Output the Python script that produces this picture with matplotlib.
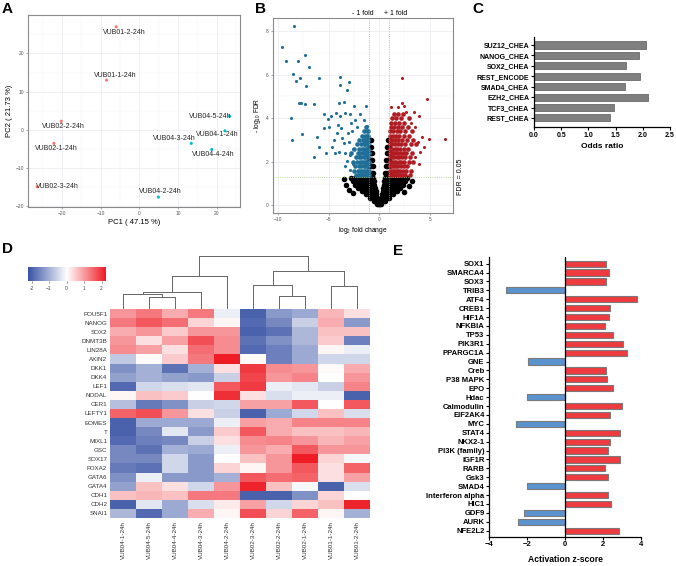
import numpy as np
import matplotlib
matplotlib.use('Agg')
import matplotlib.pyplot as plt
from matplotlib.colors import LinearSegmentedColormap

plt.rcParams['font.family'] = ['Liberation Sans', 'DejaVu Sans']
plt.rcParams['mathtext.fontset'] = 'custom'
plt.rcParams['mathtext.rm'] = 'Liberation Sans'
plt.rcParams['mathtext.it'] = 'Liberation Sans'

# ---------------- data ----------------
# A: PCA
pca_names = ['VUB01-2-24h', 'VUB01-1-24h', 'VUB02-2-24h', 'VUB02-1-24h', 'VUB02-3-24h',
             'VUB04-2-24h', 'VUB04-3-24h', 'VUB04-4-24h', 'VUB04-1-24h', 'VUB04-5-24h']
pc1 = [-6.0, -8.5, -20.2, -22.1, -26.4, 4.9, 13.4, 18.7, 22.1, 23.3]
pc2 = [27.0, 13.0, 2.2, -3.6, -15.0, -17.7, -3.6, -5.2, -0.3, 3.5]
pca_group = ['r', 'r', 'r', 'r', 'r', 'c', 'c', 'c', 'c', 'c']
label_xy = [(-3.8, 25.6), (-6.2, 14.1), (-19.7, 0.9), (-21.5, -5.0), (-21.3, -15.0),
            (5.4, -16.2), (9.0, -2.3), (19.2, -6.5), (20.1, -1.3), (18.2, 3.5)]

# B: volcano (log2 FC, -log10 FDR)
blue_out = [(-8.45, 8.25), (-9.6, 7.27), (-9.18, 6.64), (-8.03, 6.64), (-7.34, 6.9), (-6.97, 6.37),
            (-8.52, 6.02), (-7.83, 5.85), (-8.26, 5.73), (-7.24, 5.47), (-5.99, 5.85), (-7.9, 4.69),
            (-7.73, 4.7), (-7.3, 4.63), (-6.48, 4.63), (-8.68, 4.0), (-7.6, 3.28), (-8.62, 3.0),
            (-6.15, 3.12), (-5.99, 2.67), (-6.45, 2.24), (-5.3, 2.4), (-3.91, 5.9), (-3.85, 5.53),
            (-3.03, 5.68), (-3.19, 5.31), (-3.52, 4.76), (-4.01, 4.69), (-2.47, 4.58), (-1.35, 4.54),
            (-5.49, 4.2), (-5.1, 3.96), (-4.8, 4.1), (-4.28, 4.23), (-3.85, 4.12), (-3.36, 4.23),
            (-2.86, 4.2), (-1.88, 4.2), (-4.97, 3.59), (-5.49, 3.54), (-4.11, 3.7), (-3.75, 3.57),
            (-1.55, 3.92), (-1.22, 3.65), (-4.18, 3.31), (-4.44, 3.0), (-3.68, 3.08), (-4.67, 2.7),
            (-4.01, 2.47), (-4.34, 2.4), (-3.36, 2.4), (-3.52, 2.86), (-3.19, 2.02), (-2.93, 1.63),
            (-2.7, 3.4), (-3.0, 2.9), (-2.6, 2.6), (-2.9, 2.3), (-3.4, 1.8), (-2.6, 1.9),
            (-2.8, 3.8), (-2.2, 3.6), (-2.4, 3.9), (-3.1, 3.3)]
blue_rows = [(1.4, [-2.3, -2.0, -1.8, -1.6, -1.45, -1.3, -1.15, -1.03]),
             (1.6, [-2.5, -2.1, -1.85, -1.65, -1.5, -1.35, -1.2, -1.05]),
             (1.8, [-2.4, -2.0, -1.75, -1.55, -1.4, -1.25, -1.1]),
             (2.0, [-2.6, -2.2, -1.9, -1.7, -1.5, -1.35, -1.2, -1.05]),
             (2.2, [-2.3, -2.0, -1.75, -1.55, -1.4, -1.25, -1.1]),
             (2.4, [-2.8, -2.1, -1.85, -1.6, -1.45, -1.3, -1.15, -1.03]),
             (2.6, [-2.5, -2.0, -1.7, -1.5, -1.35, -1.2, -1.08]),
             (2.8, [-2.2, -1.8, -1.55, -1.4, -1.25, -1.1]),
             (3.0, [-2.0, -1.6, -1.4, -1.25, -1.12]),
             (3.2, [-1.7, -1.4, -1.2, -1.08]),
             (3.4, [-1.5, -1.25, -1.1]),
             (3.6, [-1.3])]
red_out = [(2.24, 5.85), (4.7, 4.9), (2.3, 4.69), (2.47, 4.55), (3.98, 4.1), (6.51, 3.04),
           (4.93, 3.04), (4.28, 3.16), (4.05, 2.47), (3.55, 3.62), (3.4, 4.3), (1.9, 4.5),
           (1.2, 4.5), (4.4, 2.7), (3.8, 2.9), (3.5, 2.2), (3.9, 1.9), (3.1, 3.8), (2.7, 4.3)]
red_rows = [(1.4, [1.05, 1.25, 1.45, 1.65, 1.85, 2.05, 2.3, 2.6, 3.0]),
            (1.6, [1.05, 1.25, 1.45, 1.65, 1.85, 2.1, 2.35, 2.7, 3.1]),
            (1.8, [1.05, 1.25, 1.45, 1.65, 1.9, 2.15, 2.45, 2.8]),
            (2.0, [1.05, 1.25, 1.45, 1.7, 1.95, 2.2, 2.5, 2.9, 3.3]),
            (2.2, [1.05, 1.25, 1.5, 1.75, 2.0, 2.3, 2.6, 3.0]),
            (2.4, [1.05, 1.25, 1.5, 1.75, 2.05, 2.35, 2.7, 3.2]),
            (2.6, [1.05, 1.3, 1.55, 1.8, 2.1, 2.45, 2.85]),
            (2.8, [1.05, 1.3, 1.55, 1.85, 2.2, 2.6, 3.1, 3.6]),
            (3.0, [1.05, 1.3, 1.6, 1.9, 2.3, 2.75, 3.3]),
            (3.2, [1.1, 1.35, 1.65, 2.0, 2.45, 2.9]),
            (3.4, [1.1, 1.4, 1.75, 2.1, 2.6, 3.2]),
            (3.6, [1.15, 1.5, 1.9, 2.3, 2.85]),
            (3.8, [1.2, 1.6, 2.0, 2.5]),
            (4.0, [1.3, 1.7, 2.2, 2.9]),
            (4.2, [1.5, 1.9, 2.4])]
black_rows = [(0.05, [-0.2, -0.1, 0.0, 0.1, 0.2]),
              (0.2, [-0.55, -0.4, -0.28, -0.18, 0.18, 0.28, 0.4, 0.55]),
              (0.35, [-0.9, -0.7, -0.5, -0.3, -0.2, 0.2, 0.3, 0.5, 0.7, 0.95]),
              (0.5, [-1.3, -1.05, -0.8, -0.6, -0.4, -0.27, 0.27, 0.4, 0.6, 0.8, 1.05, 1.35]),
              (0.65, [-1.7, -1.4, -1.1, -0.85, -0.6, -0.35, 0.35, 0.6, 0.85, 1.1, 1.4, 1.75]),
              (0.8, [-2.1, -1.8, -1.5, -1.2, -0.9, -0.65, -0.42, 0.42, 0.65, 0.9, 1.2, 1.5, 1.8, 2.1]),
              (0.95, [-2.4, -2.1, -1.8, -1.5, -1.2, -0.9, -0.65, -0.47, 0.47, 0.65, 0.9, 1.2, 1.5, 1.8, 2.1, 2.4]),
              (1.1, [-2.6, -2.3, -2.0, -1.7, -1.4, -1.1, -0.8, -0.52, 0.52, 0.8, 1.1, 1.4, 1.7, 2.0, 2.3, 2.6]),
              (1.25, [-2.8, -2.4, -2.1, -1.8, -1.5, -1.2, -0.9, -0.58, 0.58, 0.9, 1.2, 1.5, 1.8, 2.1, 2.4, 2.8]),
              (1.5, [-0.95, -0.75, -0.6, 0.62, 0.8, 0.97]),
              (1.8, [-0.97, -0.8, -0.65, 0.67, 0.82, 0.98]),
              (2.1, [-0.97, -0.82, -0.68, 0.7, 0.85, 0.98]),
              (2.4, [-0.97, -0.85, -0.72, 0.74, 0.88, 0.98]),
              (2.7, [-0.95, -0.8, 0.8, 0.95]),
              (3.0, [-0.95, -0.85, 0.88, 0.97])]
black_out = [(-3.3, 0.95), (-3.0, 0.7), (2.9, 0.9), (-2.6, 0.55), (2.5, 0.6), (3.2, 1.1), (-3.5, 1.2)]

# C: enrichment
tf_names = ['SUZ12_CHEA', 'NANOG_CHEA', 'SOX2_CHEA', 'REST_ENCODE', 'SMAD4_CHEA',
            'EZH2_CHEA', 'TCF3_CHEA', 'REST_CHEA']
odds = [2.06, 1.93, 1.70, 1.95, 1.67, 2.09, 1.47, 1.40]

# D: heatmap
hm_cols = ['VUB04-1-24h', 'VUB04-5-24h', 'VUB04-4-24h', 'VUB04-3-24h', 'VUB04-2-24h',
           'VUB02-3-24h', 'VUB02-2-24h', 'VUB02-1-24h', 'VUB01-1-24h', 'VUB01-2-24h']
hm_rows = ['POU5F1', 'NANOG', 'SOX2', 'DNMT3B', 'LIN28A', 'AXIN2', 'DKK1', 'DKK4', 'LEF1',
           'NODAL', 'CER1', 'LEFTY1', 'EOMES', 'T', 'MIXL1', 'GSC', 'SOX17', 'FOXA2',
           'GATA6', 'GATA4', 'CDH1', 'CDH2', 'SNAI1']
hm_vals = [
    [1.0, 1.3, 0.8, 1.3, -0.2, -2.0, -1.3, -1.1, 0.7, 0.3],
    [1.3, 1.6, 1.4, 0.4, 0.1, -1.9, -1.5, -0.6, 0.8, -1.3],
    [0.8, 1.0, 0.5, 1.0, 1.0, -2.0, -1.8, -0.9, 0.6, 0.6],
    [1.0, 0.3, 0.9, 1.7, 1.1, -1.8, -1.4, -0.9, 0.5, -1.6],
    [1.1, 0.9, 0.3, 1.4, 1.1, -1.9, -1.6, -1.1, 0.1, -0.2],
    [-0.7, 0.05, 0.5, 1.3, 2.3, 0.05, -1.6, -1.1, -0.5, -0.5],
    [-1.4, -1.0, -1.8, -1.0, 0.3, 1.9, 1.1, 1.0, 0.05, 0.8],
    [-1.2, -1.0, -1.2, -1.3, -0.6, 1.8, 1.0, 1.2, 0.0, 1.0],
    [-1.9, -0.5, -0.4, -0.3, 1.6, 1.9, -0.2, -0.3, -0.6, 1.2],
    [0.1, 0.6, 0.5, 0.0, 2.0, 0.3, -0.4, -0.2, -0.2, -2.0],
    [-0.8, -1.7, -1.4, -0.6, -0.5, 0.9, 0.9, 1.6, 0.0, 1.6],
    [1.5, 1.7, 1.0, 0.3, -0.6, -2.0, -1.1, -0.5, 0.6, -0.4],
    [-2.0, -1.1, -1.1, -1.1, -0.2, 0.9, 0.8, 1.2, 1.2, 1.2],
    [-2.0, -1.5, -0.3, -1.3, 0.5, 1.6, 0.8, 0.6, 0.6, 0.7],
    [-1.9, -1.6, -1.5, -0.6, 0.3, 1.1, 1.2, 1.0, 0.7, 0.9],
    [-1.5, -1.8, -1.0, -1.1, -0.2, 1.0, 0.8, 1.6, 1.0, 1.0],
    [-1.5, -1.5, -0.5, -1.3, 0.0, 0.6, 1.0, 2.3, 0.4, -0.1],
    [-1.7, -1.8, -0.5, -1.3, 0.4, 0.1, 1.0, 1.6, 0.3, 1.5],
    [-1.4, -0.2, -1.3, -1.3, -1.0, 1.6, 1.4, 1.5, 0.3, 0.9],
    [-1.2, 0.6, 0.3, -0.5, 1.0, 2.1, 0.6, -0.1, -2.0, -0.4],
    [0.6, 0.7, 0.6, 1.3, 1.3, -2.0, -2.0, -1.4, 0.4, 0.0],
    [-2.0, -0.3, -1.1, -0.4, 0.2, 0.9, -0.5, 0.4, 0.6, 2.1],
    [-0.9, -1.9, -1.1, 0.8, 0.1, 1.7, 0.4, 1.5, 0.1, -1.0],
]
# dendrogram merges: (left node, right node, height); new nodes numbered from 10
merges = [(1, 2, 35), (0, 10, 45), (11, 3, 52), (12, 4, 99),
          (6, 7, 39), (5, 14, 72), (8, 9, 69), (15, 16, 112), (13, 17, 157)]

# E: upstream regulators
reg_names = ['SOX1', 'SMARCA4', 'SOX3', 'TRIB3', 'ATF4', 'CREB1', 'HIF1A', 'NFKBIA', 'TP53',
             'PIK3R1', 'PPARGC1A', 'GNE', 'Creb', 'P38 MAPK', 'EPO', 'Hdac', 'Calmodulin',
             'EIF2AK4', 'MYC', 'STAT4', 'NKX2-1', 'PI3K (family)', 'IGF1R', 'RARB', 'Gsk3',
             'SMAD4', 'Interferon alpha', 'HIC1', 'GDF9', 'AURK', 'NFE2L2']
zscore = [2.17, 2.33, 2.17, -3.12, 3.77, 2.38, 2.33, 2.08, 2.5, 3.07, 3.26, -1.96, 2.17, 2.19,
          2.52, -2.01, 3.0, 2.38, -2.57, 2.87, 2.36, 2.26, 2.92, 2.08, 2.24, -2.01, 2.26, 2.43,
          -2.17, -2.45, 2.84]

# ---------------- figure ----------------
W, H = 676, 566
fig = plt.figure(figsize=(W / 100, H / 100), dpi=100)


def ax_px(x0, y0, x1, y1):
    return fig.add_axes([x0 / W, 1 - y1 / H, (x1 - x0) / W, (y1 - y0) / H])


def gg_style(ax):
    ax.set_axisbelow(True)
    ax.grid(which='major', color='#e8e8ee', lw=0.5)
    ax.grid(which='minor', color='#f3f3f6', lw=0.35)
    ax.tick_params(which='major', labelsize=3.5, length=1.5, width=0.4,
                   color='#666666', labelcolor='#555555', pad=1.5)
    ax.tick_params(which='minor', length=0)
    for s in ax.spines.values():
        s.set_color('#8a8a8a')
        s.set_linewidth(0.8)


# A
axA = ax_px(28, 15, 240, 207)
axA.set_xlim(-28.8, 26)
axA.set_ylim(-20.3, 30.1)
axA.set_xticks([-20, -10, 0, 10, 20])
axA.set_yticks([-20, -10, 0, 10, 20])
axA.set_xticks([-25, -15, -5, 5, 15, 25], minor=True)
axA.set_yticks([-15, -5, 5, 15, 25], minor=True)
gg_style(axA)
colA = {'r': '#F8766D', 'c': '#00BFC4'}
axA.scatter(pc1, pc2, s=5, c=[colA[g] for g in pca_group], lw=0)
for name, (lx, ly) in zip(pca_names, label_xy):
    axA.text(lx, ly, name, fontsize=5, color='#222222', ha='center', va='center')
axA.set_xlabel('PC1 ( 47.15 %)', fontsize=5.5, labelpad=2)
axA.set_ylabel('PC2 ( 21.73 %)', fontsize=5.5, labelpad=2)

# B
axB = ax_px(273, 18, 453, 213)
axB.set_xlim(-10.5, 7.3)
axB.set_ylim(-0.35, 8.6)
axB.set_xticks([-10, -5, 0, 5])
axB.set_xticks([-7.5, -2.5, 2.5], minor=True)
axB.set_yticks([0, 2, 4, 6, 8])
axB.set_yticks([1, 3, 5, 7], minor=True)
gg_style(axB)
bx = [x for y, xs in black_rows for x in xs] + [p[0] for p in black_out]
by = [y for y, xs in black_rows for x in xs] + [p[1] for p in black_out]
axB.scatter(bx, by, s=16, c='black', lw=0)
ux = [x for y, xs in blue_rows for x in xs]
uy = [y for y, xs in blue_rows for x in xs]
axB.scatter(ux, uy, s=11, c='#1f6f98', lw=0)
axB.scatter([p[0] for p in blue_out], [p[1] for p in blue_out], s=5, c='#1f6f98', lw=0)
rx = [x for y, xs in red_rows for x in xs]
ry = [y for y, xs in red_rows for x in xs]
axB.scatter(rx, ry, s=11, c='#b01c22', lw=0)
axB.scatter([p[0] for p in red_out], [p[1] for p in red_out], s=5, c='#b01c22', lw=0)
axB.axvline(-1, color='#9aa3d6', lw=0.6, ls=':')
axB.axvline(1, color='#9aa3d6', lw=0.6, ls=':')
axB.axhline(-np.log10(0.05), color='#a6cf7a', lw=0.6, ls=':')
trB = axB.get_xaxis_transform()
axB.text(-1.6, 1.025, '- 1 fold', transform=trB, fontsize=5, ha='center', va='center')
axB.text(1.6, 1.025, '+ 1 fold', transform=trB, fontsize=5, ha='center', va='center')
axB.text(1.04, -np.log10(0.05), 'FDR = 0.05', transform=axB.get_yaxis_transform(),
         fontsize=5, rotation=90, ha='center', va='center')
axB.set_xlabel('log$_{2}$ fold change', fontsize=4.8, labelpad=2)
axB.set_ylabel('- log$_{10}$ FDR', fontsize=4.8, labelpad=2)

# C
axC = ax_px(534, 37, 670, 127)
posC = np.arange(len(tf_names))
axC.barh(posC, odds, height=0.68, color='#7f7f7f', edgecolor='#5a5a5a', lw=0.5)
axC.set_ylim(len(tf_names) - 1 + 0.87, -0.77)
axC.set_xlim(0, 2.5)
axC.set_xticks([0, 0.5, 1.0, 1.5, 2.0, 2.5])
axC.set_xticklabels(['0.0', '0.5', '1.0', '1.5', '2.0', '2.5'])
axC.set_yticks(posC)
axC.set_yticklabels(tf_names)
for s in ['top', 'right']:
    axC.spines[s].set_visible(False)
for s in ['left', 'bottom']:
    axC.spines[s].set_linewidth(0.9)
axC.tick_params(labelsize=5, length=2, width=0.8, pad=1.5)
for t in axC.get_xticklabels() + axC.get_yticklabels():
    t.set_fontweight('bold')
axC.set_xlabel('Odds ratio', fontsize=6, fontweight='bold', labelpad=3)

# D heatmap
cmap = LinearSegmentedColormap.from_list('bwr2', ['#3953a5', '#ffffff', '#ee1c24'])
axD = ax_px(110, 309, 370, 518)
axD.imshow(np.array(hm_vals), cmap=cmap, vmin=-2.2, vmax=2.2, aspect='auto',
           interpolation='nearest')
axD.set_xticks(range(len(hm_cols)))
axD.set_xticklabels(hm_cols, rotation=90, fontsize=4.5, color='#333333')
axD.set_yticks(range(len(hm_rows)))
axD.set_yticklabels(hm_rows, fontsize=4.5, color='#333333')
axD.tick_params(length=0, pad=2)
for s in axD.spines.values():
    s.set_visible(False)

# dendrogram
axDen = ax_px(110, 256, 370, 309)
node_x = {i: i + 0.5 for i in range(len(hm_cols))}
node_h = {i: 2 for i in range(len(hm_cols))}
for k, (a, b, h) in enumerate(merges):
    nid = len(hm_cols) + k
    for c in (a, b):
        axDen.plot([node_x[c], node_x[c]], [node_h[c], h], color='#666666', lw=0.7)
    axDen.plot([node_x[a], node_x[b]], [h, h], color='#666666', lw=0.7)
    node_x[nid] = (node_x[a] + node_x[b]) / 2
    node_h[nid] = h
axDen.set_xlim(0, len(hm_cols))
axDen.set_ylim(0, 158)
axDen.axis('off')

# colour key
axK = ax_px(28, 267, 105, 281)
axK.imshow(np.linspace(-2.2, 2.2, 256)[None, :], cmap=cmap, vmin=-2.2, vmax=2.2,
           aspect='auto', extent=[-2.2, 2.2, 0, 1])
axK.set_yticks([])
axK.set_xticks([-2, -1, 0, 1, 2])
axK.set_xticklabels(['-2', '\u22121', '0', '1', '2'])
axK.tick_params(labelsize=3.5, length=1.5, width=0.4, pad=2, colors='#444444')
for s in axK.spines.values():
    s.set_visible(False)

# E
axE = ax_px(489, 257, 641, 537)
posE = np.arange(len(reg_names))
colE = ['#ee3b40' if z > 0 else '#5b93cf' for z in zscore]
axE.barh(posE, zscore, height=0.7, color=colE, edgecolor='#7a7a7a', lw=0.8)
axE.axvline(0, color='black', lw=0.9)
axE.set_xlim(-4, 4)
axE.set_ylim(len(reg_names) - 1 + 0.71, -0.75)
axE.set_xticks([-4, -2, 0, 2, 4])
axE.set_yticks(posE)
axE.set_yticklabels(reg_names)
for s in ['top', 'right']:
    axE.spines[s].set_visible(False)
for s in ['left', 'bottom']:
    axE.spines[s].set_linewidth(0.9)
axE.tick_params(labelsize=5.5, length=2, width=0.8, pad=1.2)
for t in axE.get_xticklabels() + axE.get_yticklabels():
    t.set_fontweight('bold')
axE.set_xlabel('Activation z-score', fontsize=6.2, fontweight='bold', labelpad=5)

# panel letters
for letter, (lx, ly) in zip('ABCDE', [(2, 2), (255, 2), (472, 2), (2, 242), (393, 244)]):
    fig.text(lx / W, 1 - ly / H, letter, fontsize=11, fontweight='bold', ha='left', va='top')

fig.savefig('out.png', dpi=100)
